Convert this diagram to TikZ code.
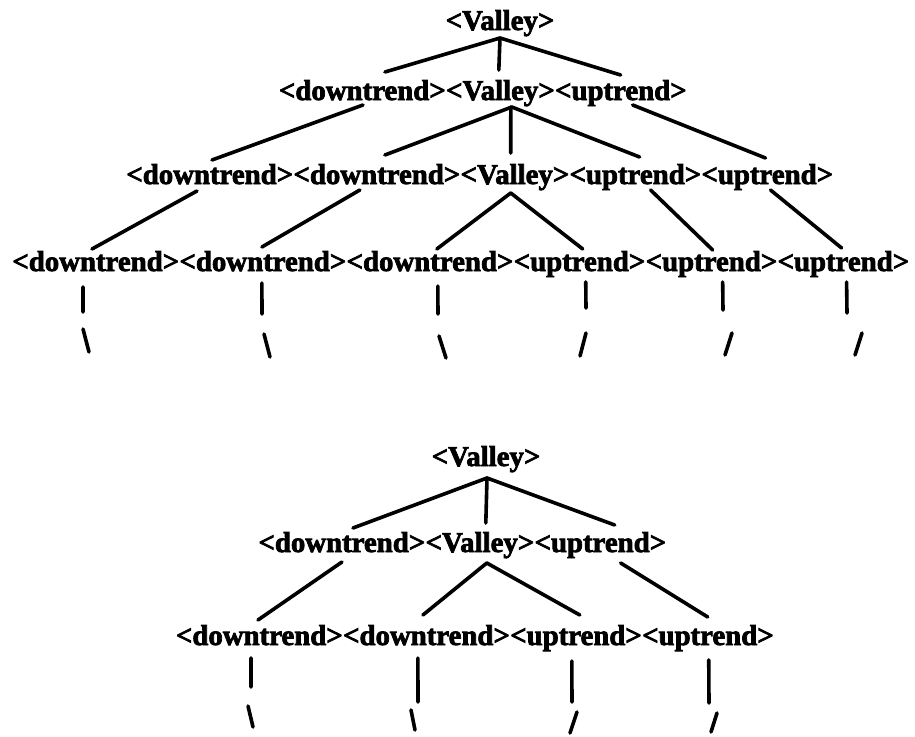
\documentclass[tikz,border=0pt]{standalone}
\usepackage{fontspec}
\usetikzlibrary{calc}
\newfontfamily\heavyserif{Liberation Serif}[BoldFeatures={FakeBold=2.5}]
\begin{document}
\begin{tikzpicture}[x=1pt,y=-1pt,
  tok/.style={font=\heavyserif\bfseries\fontsize{28.8}{30}\selectfont,
              inner sep=0pt, anchor=base west},
  edge/.style={line width=3.6pt, line cap=round}]
\useasboundingbox (0,0) rectangle (915,736);

% ---------- first derivation tree ----------
\node[tok, anchor=base] (R0) at (500,30) {<Valley>};

\node[tok] (A1) at (278.8,100) {<downtrend>};
\node[tok] (A2) at (A1.base east) {<Valley>};
\node[tok] (A3) at (A2.base east) {<uptrend>};

\node[tok] (B1) at (126.2,184) {<downtrend>};
\node[tok] (B2) at (B1.base east) {<downtrend>};
\node[tok] (B3) at (B2.base east) {<Valley>};
\node[tok] (B4) at (B3.base east) {<uptrend>};
\node[tok] (B5) at (B4.base east) {<uptrend>};

\node[tok] (C1) at (12.2,271) {<downtrend>};
\node[tok] (C2) at (C1.base east) {<downtrend>};
\node[tok] (C3) at (C2.base east) {<downtrend>};
\node[tok] (C4) at (C3.base east) {<uptrend>};
\node[tok] (C5) at (C4.base east) {<uptrend>};
\node[tok] (C6) at (C5.base east) {<uptrend>};

\draw[edge] ($(R0.base)+(0,8)$) -- ($(A1.base)+(22.6,-28)$);
\draw[edge] ($(R0.base)+(0,8)$) -- ($(A2.base)+(-1.6,-30)$);
\draw[edge] ($(R0.base)+(0,8)$) -- ($(A3.base)+(-0.2,-25)$);

\draw[edge] ($(A1.base)+(0.6,5)$)  -- ($(B1.base)+(2.2,-24)$);
\draw[edge] ($(A2.base)+(11.4,7)$) -- ($(B2.base)+(8,-29)$);
\draw[edge] ($(A2.base)+(10.4,7)$) -- ($(B3.base)+(-4.2,-31)$);
\draw[edge] ($(A2.base)+(11.4,7)$) -- ($(B4.base)+(4.2,-27)$);
\draw[edge] ($(A3.base)+(11.8,5)$) -- ($(B5.base)+(-1.8,-26)$);

\draw[edge] ($(B1.base)+(-12.8,7)$) -- ($(C1.base)+(-3.8,-22)$);
\draw[edge] ($(B2.base)+(-17,6)$)   -- ($(C2.base)+(-1,-24)$);
\draw[edge] ($(B3.base)+(-4.2,9)$)  -- ($(C3.base)+(6.8,-22)$);
\draw[edge] ($(B3.base)+(-4.2,9)$)  -- ($(C4.base)+(3.2,-22)$);
\draw[edge] ($(B4.base)+(15.2,6)$)  -- ($(C5.base)+(1.2,-21)$);
\draw[edge] ($(B5.base)+(3.2,6)$)   -- ($(C6.base)+(-1.8,-23)$);

% continuation strokes under the leaves
\coordinate (c1b) at (83,312);  \coordinate (c1s) at (83,329);  \coordinate (c1t) at (89,352);
\coordinate (c2b) at (262,314); \coordinate (c2s) at (264,334); \coordinate (c2t) at (270,357);
\coordinate (c3b) at (438,314); \coordinate (c3s) at (439,336); \coordinate (c3t) at (446,358);
\coordinate (c4b) at (586,308); \coordinate (c4s) at (586,333); \coordinate (c4t) at (580,356);
\coordinate (c5b) at (723,310); \coordinate (c5s) at (732,333); \coordinate (c5t) at (725,355);
\coordinate (c6b) at (847,313); \coordinate (c6s) at (862,333); \coordinate (c6t) at (855,355);

\draw[edge] ($(C1.base)+(-12.8,16)$) -- (c1b);  \draw[edge] (c1s) -- (c1t);
\draw[edge] ($(C2.base)+(-1,12)$)    -- (c2b);  \draw[edge] (c2s) -- (c2t);
\draw[edge] ($(C3.base)+(7.8,15)$)   -- (c3b);  \draw[edge] (c3s) -- (c3t);
\draw[edge] ($(C4.base)+(6.2,11)$)   -- (c4b);  \draw[edge] (c4s) -- (c4t);
\draw[edge] ($(C5.base)+(11.2,11)$)  -- (c5b);  \draw[edge] (c5s) -- (c5t);
\draw[edge] ($(C6.base)+(3.2,11)$)   -- (c6b);  \draw[edge] (c6s) -- (c6t);

% ---------- second derivation tree ----------
\node[tok, anchor=base] (S0) at (486,466) {<Valley>};

\node[tok] (E1) at (258.3,552) {<downtrend>};
\node[tok] (E2) at (E1.base east) {<Valley>};
\node[tok] (E3) at (E2.base east) {<uptrend>};

\node[tok] (F1) at (175.8,645) {<downtrend>};
\node[tok] (F2) at (F1.base east) {<downtrend>};
\node[tok] (F3) at (F2.base east) {<uptrend>};
\node[tok] (F4) at (F3.base east) {<uptrend>};

\draw[edge] ($(S0.base)+(1,12)$) -- ($(E1.base)+(11.1,-24)$);
\draw[edge] ($(S0.base)+(1,12)$) -- ($(E2.base)+(5.9,-29)$);
\draw[edge] ($(S0.base)+(1,12)$) -- ($(E3.base)+(14.3,-27)$);

\draw[edge] ($(E1.base)+(0.1,10)$)  -- ($(F1.base)+(-1.4,-25)$);
\draw[edge] ($(E2.base)+(6.9,11)$)  -- ($(F2.base)+(-3.6,-30)$);
\draw[edge] ($(E2.base)+(6.9,11)$)  -- ($(F3.base)+(3.8,-30)$);
\draw[edge] ($(E3.base)+(20.3,11)$) -- ($(F4.base)+(-0.2,-28)$);

\coordinate (f1b) at (251,687); \coordinate (f1s) at (248,706); \coordinate (f1t) at (253,727);
\coordinate (f2b) at (418,702); \coordinate (f2s) at (411,710); \coordinate (f2t) at (415,730);
\coordinate (f3b) at (572,702); \coordinate (f3s) at (577,712); \coordinate (f3t) at (570,733);
\coordinate (f4b) at (709,703); \coordinate (f4s) at (717,713); \coordinate (f4t) at (711,732);

\draw[edge] ($(F1.base)+(-8.4,13)$) -- (f1b);  \draw[edge] (f1s) -- (f1t);
\draw[edge] ($(F2.base)+(-8.6,13)$) -- (f2b);  \draw[edge] (f2s) -- (f2t);
\draw[edge] ($(F3.base)+(-4.2,16)$) -- (f3b);  \draw[edge] (f3s) -- (f3t);
\draw[edge] ($(F4.base)+(0.8,15)$)  -- (f4b);  \draw[edge] (f4s) -- (f4t);
\end{tikzpicture}
\end{document}
